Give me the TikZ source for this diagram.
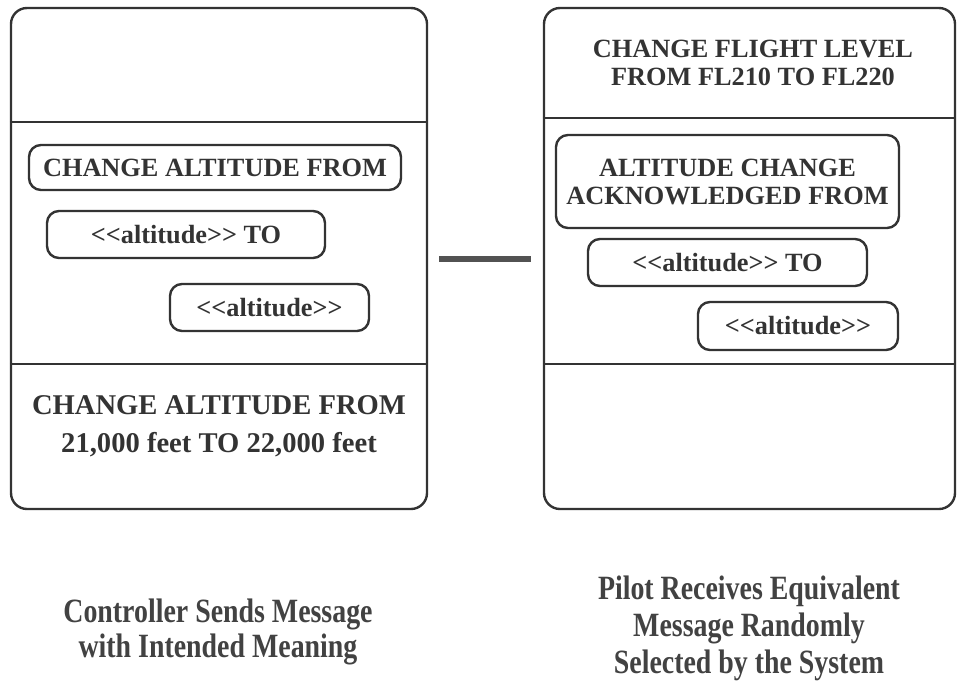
\documentclass[tikz,border=0pt]{standalone}
\usepackage{fontspec}
\setmainfont{Liberation Serif}
\newfontfamily\capfont[FakeStretch=0.82]{Liberation Serif}
\definecolor{ink}{HTML}{333333}
\definecolor{capink}{HTML}{424242}
% double angle brackets, kept apart so they are not merged into guillemets
\newcommand\dlt{<\kern0pt<}
\newcommand\dgt{>\kern0pt>}
\begin{document}
\begin{tikzpicture}[x=1pt,y=-1pt,
  panel/.style={draw=ink, line width=2.4pt, rounded corners=16pt,
    minimum height=501pt, inner sep=0pt},
  tag/.style={draw=ink, line width=2.4pt, rounded corners=12pt, inner sep=0pt,
    font=\fontsize{26.3}{28}\selectfont\bfseries, text=ink},
  msg/.style={align=center, inner sep=0pt, text=ink},
  caption/.style={text=capink, align=center, inner sep=0pt},
  link/.style={draw=ink!85, line width=6pt},
  divider/.style={draw=ink, line width=2.2pt}]
\useasboundingbox (0,0) rectangle (957,680);

% the two message panels
\node[panel, minimum width=416pt] (ctrl) at (219,258.5) {};
\node[panel, minimum width=411pt] (pilot) at (749.5,258.5) {};

\draw[divider] (ctrl.west |- 0,122) -- (ctrl.east |- 0,122);
\draw[divider] (ctrl.west |- 0,364) -- (ctrl.east |- 0,364);
\draw[divider] (pilot.west |- 0,118) -- (pilot.east |- 0,118);
\draw[divider] (pilot.west |- 0,364) -- (pilot.east |- 0,364);

% controller side: template pieces and the resulting message
\node[tag, minimum width=372pt, minimum height=45pt] (c1) at (215,167.5)
  {CHANGE ALTITUDE FROM};
\node[tag, minimum width=278pt, minimum height=47pt] (c2) at (186,234.5)
  {\dlt altitude\dgt{} TO};
\node[tag, minimum width=199pt, minimum height=47pt] (c3) at (269.5,307.5)
  {\dlt altitude\dgt};
\node[msg, font=\fontsize{28.6}{38}\selectfont\bfseries] (cm) at (219,426.5)
  {CHANGE ALTITUDE FROM\\21,000 feet TO 22,000 feet};

% pilot side: received message and its template pieces
\node[msg, font=\fontsize{26.3}{28}\selectfont\bfseries] (pm) at (753,62.5)
  {CHANGE FLIGHT LEVEL\\FROM FL210 TO FL220};
\node[tag, align=center, minimum width=343pt, minimum height=93pt] (p1) at (727.5,181.5)
  {ALTITUDE CHANGE\\ACKNOWLEDGED FROM};
\node[tag, minimum width=279pt, minimum height=47pt] (p2) at (727.5,262.5)
  {\dlt altitude\dgt{} TO};
\node[tag, minimum width=200pt, minimum height=48pt] (p3) at (798,326)
  {\dlt altitude\dgt};

% link between the panels
\draw[link, shorten <=11pt, shorten >=12pt] (ctrl.east) -- (pilot.west);

% captions
\node[caption, font=\capfont\fontsize{34}{35.5}\selectfont\bfseries] (capl) at (218,632)
  {Controller Sends Message\\with Intended Meaning};
\node[caption, font=\capfont\fontsize{34}{37}\selectfont\bfseries] (capr) at (749,628)
  {Pilot Receives Equivalent\\Message Randomly\\Selected by the System};
\end{tikzpicture}
\end{document}
